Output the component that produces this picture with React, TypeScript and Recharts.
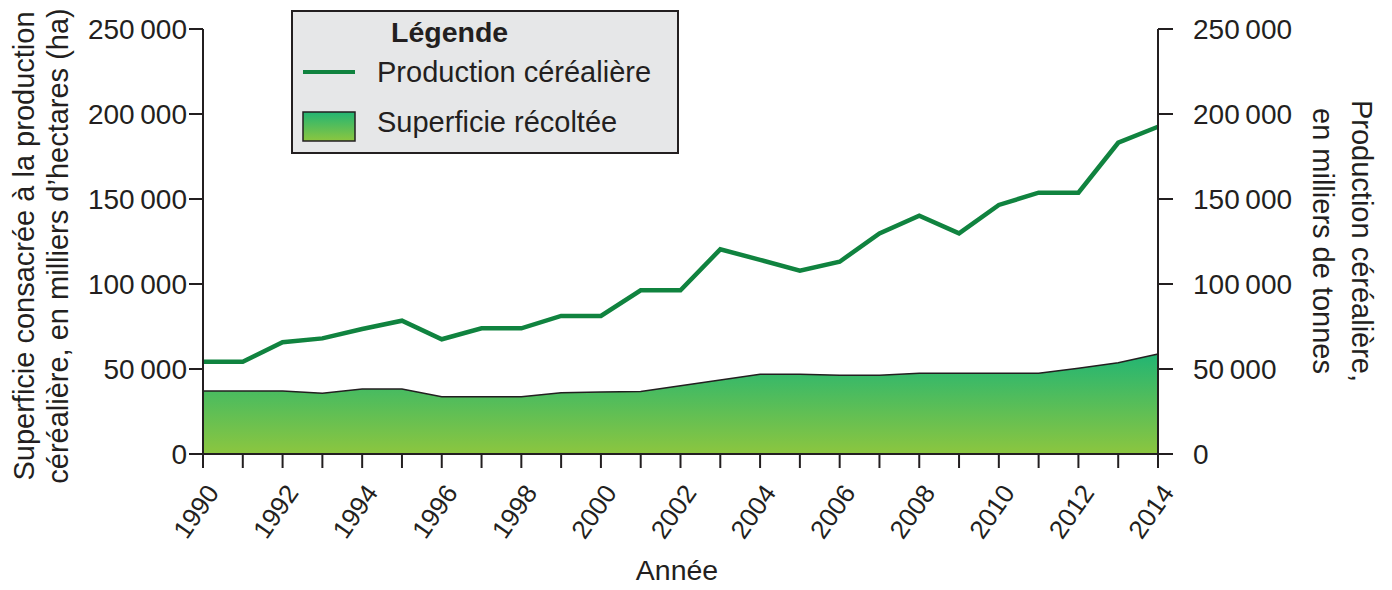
import React from 'react';
import { ComposedChart, Area, Line, XAxis, YAxis, Legend, Label } from 'recharts';

const years = [1990, 1991, 1992, 1993, 1994, 1995, 1996, 1997, 1998, 1999, 2000, 2001, 2002, 2003, 2004, 2005, 2006, 2007, 2008, 2009, 2010, 2011, 2012, 2013, 2014];
const production = [54300, 54300, 65700, 68000, 73500, 78400, 67500, 73900, 73900, 81200, 81200, 96300, 96300, 120400, 114200, 107800, 113100, 129800, 140200, 129800, 146500, 153700, 153700, 183100, 192500];
const harvestedArea = [37000, 37000, 37000, 35700, 38200, 38200, 33700, 33700, 33700, 36100, 36500, 36700, 40200, 43500, 46900, 46900, 46300, 46300, 47500, 47500, 47500, 47500, 50400, 53700, 58800];
const yTicks = [0, 50000, 100000, 150000, 200000, 250000];
const labeledYears = [1990, 1992, 1994, 1996, 1998, 2000, 2002, 2004, 2006, 2008, 2010, 2012, 2014];

const data = years.map((year, i) => ({ year, production: production[i], area: harvestedArea[i] }));

const FONT = '"Liberation Sans", Arial, Helvetica, sans-serif';
const INK = '#231f20';
const LINE_GREEN = '#10833f';
const GRAD_TOP = '#22b573';
const GRAD_BOTTOM = '#8cc63f';

const fmt = (v: number) => String(v).replace(/\B(?=(\d{3})+(?!\d))/g, '\u2009');

const XTick = (props: any) => {
  const { x, y, payload } = props;
  if (!labeledYears.includes(payload.value)) return <g />;
  return (
    <g transform={`translate(${x + 17},${y + 23})`}>
      <text transform="rotate(-55)" textAnchor="end" fontSize={26} fontFamily={FONT} fill={INK}>
        {payload.value}
      </text>
    </g>
  );
};

const LeftTitle = () => (
  <g fontFamily={FONT} fontSize={29} fill={INK}>
    <text transform="translate(26,238) rotate(-90)" textAnchor="middle">Superficie consacrée à la production</text>
    <text transform="translate(60,238) rotate(-90)" textAnchor="middle">céréalière, en milliers d’hectares (ha)</text>
  </g>
);

const RightTitle = () => (
  <g fontFamily={FONT} fontSize={29} fill={INK}>
    <text transform="translate(1344,233) rotate(90)" textAnchor="middle">Production céréalière,</text>
    <text transform="translate(1305,233) rotate(90)" textAnchor="middle">en milliers de tonnes</text>
  </g>
);

const XTitle = () => (
  <text x={669} y={572} textAnchor="middle" fontFamily={FONT} fontSize={28.5} fill={INK}>Année</text>
);

const LegendBox = () => (
  <svg width={388} height={144} style={{ display: 'block' }}>
    <defs>
      <linearGradient id="legendGrad" x1="0" y1="0" x2="0" y2="1">
        <stop offset="0%" stopColor={GRAD_TOP} />
        <stop offset="100%" stopColor={GRAD_BOTTOM} />
      </linearGradient>
    </defs>
    <rect x={1} y={1} width={386} height={142} fill="#e6e7e8" stroke={INK} strokeWidth={2} />
    <text x={100} y={32} fontFamily={FONT} fontSize={28.5} fontWeight="bold" fill={INK}>Légende</text>
    <line x1={12} x2={64} y1={62} y2={62} stroke={LINE_GREEN} strokeWidth={4} />
    <text x={86} y={72} fontFamily={FONT} fontSize={29} fill={INK}>Production céréalière</text>
    <rect x={12} y={102} width={52} height={29} fill="url(#legendGrad)" stroke={INK} strokeWidth={1.5} />
    <text x={86} y={122} fontFamily={FONT} fontSize={29} fill={INK}>Superficie récoltée</text>
  </svg>
);

export default function App() {
  return (
    <div style={{ width: 1376, height: 582, background: '#fff' }}>
      <ComposedChart width={1376} height={582} data={data} margin={{ top: 21, right: 0, bottom: 0, left: 0 }}>
        <defs>
          <linearGradient id="areaGrad" x1="0" y1="0" x2="0" y2="1">
            <stop offset="0%" stopColor={GRAD_TOP} />
            <stop offset="100%" stopColor={GRAD_BOTTOM} />
          </linearGradient>
        </defs>
        <XAxis
          dataKey="year"
          type="number"
          domain={[1990, 2014]}
          ticks={years}
          interval={0}
          height={136}
          tickSize={14}
          tick={<XTick />}
          axisLine={{ stroke: INK, strokeWidth: 2 }}
          tickLine={{ stroke: INK, strokeWidth: 2 }}
        >
          <Label content={<XTitle />} />
        </XAxis>
        <YAxis
          yAxisId="left"
          width={195}
          domain={[0, 250000]}
          ticks={yTicks}
          interval={0}
          tickSize={14}
          tickMargin={2}
          tickFormatter={fmt}
          tick={{ fontSize: 28, fill: INK, fontFamily: FONT }}
          axisLine={{ stroke: INK, strokeWidth: 2 }}
          tickLine={{ stroke: INK, strokeWidth: 2 }}
        >
          <Label content={<LeftTitle />} />
        </YAxis>
        <YAxis
          yAxisId="right"
          orientation="right"
          width={226}
          domain={[0, 250000]}
          ticks={yTicks}
          interval={0}
          tickSize={15}
          tickMargin={20}
          tickFormatter={fmt}
          tick={{ fontSize: 28, fill: INK, fontFamily: FONT, textAnchor: 'start' }}
          axisLine={{ stroke: INK, strokeWidth: 2 }}
          tickLine={{ stroke: INK, strokeWidth: 2 }}
        >
          <Label content={<RightTitle />} />
        </YAxis>
        <Area
          yAxisId="left"
          type="linear"
          dataKey="area"
          name="Superficie récoltée"
          stroke={INK}
          strokeWidth={1.5}
          fill="url(#areaGrad)"
          fillOpacity={1}
          isAnimationActive={false}
          dot={false}
          activeDot={false}
        />
        <Line
          yAxisId="right"
          type="linear"
          dataKey="production"
          name="Production céréalière"
          stroke={LINE_GREEN}
          strokeWidth={4.5}
          dot={false}
          activeDot={false}
          isAnimationActive={false}
        />
        <Legend
          layout="vertical"
          align="center"
          verticalAlign="middle"
          content={<LegendBox />}
          wrapperStyle={{ position: 'absolute', left: 283, top: 2, width: 388, height: 144, margin: 0, padding: 0 }}
        />
      </ComposedChart>
    </div>
  );
}
